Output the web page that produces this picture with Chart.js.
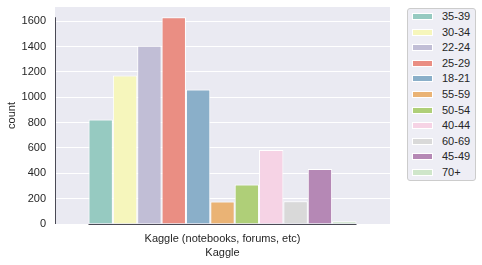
<!DOCTYPE html>
<html>
<head>
<meta charset="utf-8">
<script src="https://cdn.jsdelivr.net/npm/chart.js@4.4.1/dist/chart.umd.min.js"></script>
<style>
  html, body { margin: 0; padding: 0; background: #fff; }
  #wrap { position: relative; width: 482px; height: 265px; }
  #legend {
    position: absolute; left: 407px; top: 8px; width: 69px; height: 173px;
    box-sizing: border-box; border: 1px solid #cccccc; border-radius: 3px;
    background: #eeeef5; font: 11px "Liberation Sans", Arial, sans-serif; color: #262626;
  }
  .row { position: absolute; left: 0; height: 16px; width: 100%; }
  .row .patch { position: absolute; left: 4px; top: 4px; width: 21px; height: 7px; box-sizing: border-box; border: 1px solid #fff; }
  .row .lbl { position: absolute; left: 34px; top: 1px; line-height: 13px; }
</style>
</head>
<body>
<div id="wrap">
  <canvas id="chart" width="482" height="265"></canvas>
  <div id="legend"></div>
</div>
<script>
// data
const categories = ['Kaggle (notebooks, forums, etc)'];
const ageGroups = ['35-39', '30-34', '22-24', '25-29', '18-21', '55-59', '50-54', '40-44', '60-69', '45-49', '70+'];
const counts = [825, 1173, 1407, 1632, 1062, 177, 311, 585, 179, 435, 21];
const yTicks = [0, 200, 400, 600, 800, 1000, 1200, 1400, 1600];

// Set3 palette, desaturated like seaborn does for bars
const set3 = ['#8dd3c7', '#ffffb3', '#bebada', '#fb8072', '#80b1d3', '#fdb462',
              '#b3de69', '#fccde5', '#d9d9d9', '#bc80bd', '#ccebc5'];

function desaturate(hex, prop) {
  let r = parseInt(hex.slice(1, 3), 16) / 255;
  let g = parseInt(hex.slice(3, 5), 16) / 255;
  let b = parseInt(hex.slice(5, 7), 16) / 255;
  const max = Math.max(r, g, b), min = Math.min(r, g, b);
  const l = (max + min) / 2;
  let h = 0, s = 0;
  if (max !== min) {
    const d = max - min;
    s = l > 0.5 ? d / (2 - max - min) : d / (max + min);
    if (max === r) h = ((g - b) / d + (g < b ? 6 : 0)) / 6;
    else if (max === g) h = ((b - r) / d + 2) / 6;
    else h = ((r - g) / d + 4) / 6;
  }
  s *= prop;
  const q = l < 0.5 ? l * (1 + s) : l + s - l * s;
  const p = 2 * l - q;
  const hue = t => {
    if (t < 0) t += 1;
    if (t > 1) t -= 1;
    if (t < 1 / 6) return p + (q - p) * 6 * t;
    if (t < 1 / 2) return q;
    if (t < 2 / 3) return p + (q - p) * (2 / 3 - t) * 6;
    return p;
  };
  const to = v => Math.round(v * 255);
  return `rgb(${to(hue(h + 1 / 3))}, ${to(hue(h))}, ${to(hue(h - 1 / 3))})`;
}

const colors = set3.map(c => desaturate(c, 0.75));
const FONT = '"Liberation Sans", Arial, sans-serif';
const TEXT = '#262626';

// background + trimmed spines like seaborn despine(trim=True)
const seabornAxes = {
  id: 'seabornAxes',
  beforeDraw(chart) {
    const { ctx, chartArea: a } = chart;
    ctx.save();
    ctx.fillStyle = '#eaeaf2';
    ctx.fillRect(a.left, a.top, a.right - a.left, a.bottom - a.top);
    ctx.restore();
  },
  afterDatasetsDraw(chart) {
    const { ctx, chartArea: a, scales } = chart;
    const y = scales.y;
    const first = chart.getDatasetMeta(0).data[0];
    const last = chart.getDatasetMeta(ageGroups.length - 1).data[0];
    ctx.save();
    ctx.strokeStyle = '#4a4a55';
    ctx.lineWidth = 1;
    ctx.beginPath();
    ctx.moveTo(a.left + 0.5, y.getPixelForValue(0));
    ctx.lineTo(a.left + 0.5, y.getPixelForValue(Math.max(...counts)));
    ctx.moveTo(first.x - first.width / 2, Math.round(a.bottom) + 0.5);
    ctx.lineTo(last.x + last.width / 2, Math.round(a.bottom) + 0.5);
    ctx.stroke();
    ctx.restore();
  }
};

const datasets = ageGroups.map((g, i) => ({
  label: g,
  data: [counts[i]],
  backgroundColor: colors[i],
  borderColor: '#ffffff',
  borderWidth: 1,
  categoryPercentage: 0.8,
  barPercentage: 1.0
}));

new Chart(document.getElementById('chart'), {
  type: 'bar',
  data: { labels: categories, datasets },
  plugins: [seabornAxes],
  options: {
    responsive: false,
    animation: false,
    layout: { padding: { top: 7, right: 92, bottom: 0, left: 0 } },
    plugins: { legend: { display: false }, tooltip: { enabled: false } },
    scales: {
      x: {
        grid: { display: false, drawTicks: false },
        border: { display: false },
        ticks: { color: TEXT, font: { family: FONT, size: 11 }, padding: 8, maxRotation: 0 },
        title: { display: true, text: 'Kaggle', color: TEXT, font: { family: FONT, size: 11 }, padding: { top: 0, bottom: 5 } },
        afterFit(scale) {
          scale.height = 41;
          scale.paddingLeft = 0;
          scale.paddingRight = 0;
        }
      },
      y: {
        min: 0,
        max: 1713,
        grid: { color: '#ffffff', lineWidth: 1, drawTicks: false },
        border: { display: false },
        afterBuildTicks(scale) { scale.ticks = yTicks.map(v => ({ value: v })); },
        ticks: { color: TEXT, font: { family: FONT, size: 11 }, padding: 9, callback: v => String(v) },
        title: { display: true, text: 'count', color: TEXT, font: { family: FONT, size: 11 }, padding: { top: 5, bottom: 0 } },
        afterFit(scale) {
          scale.width = 55;
          scale.paddingTop = 0;
          scale.paddingBottom = 0;
        }
      }
    }
  }
});

// legend box outside the axes, upper right
const legend = document.getElementById('legend');
ageGroups.forEach((g, i) => {
  const row = document.createElement('div');
  row.className = 'row';
  row.style.top = (i * 15.6) + 'px';
  row.innerHTML = `<span class="patch" style="background:${colors[i]}"></span><span class="lbl">${g}</span>`;
  legend.appendChild(row);
});
</script>
</body>
</html>
